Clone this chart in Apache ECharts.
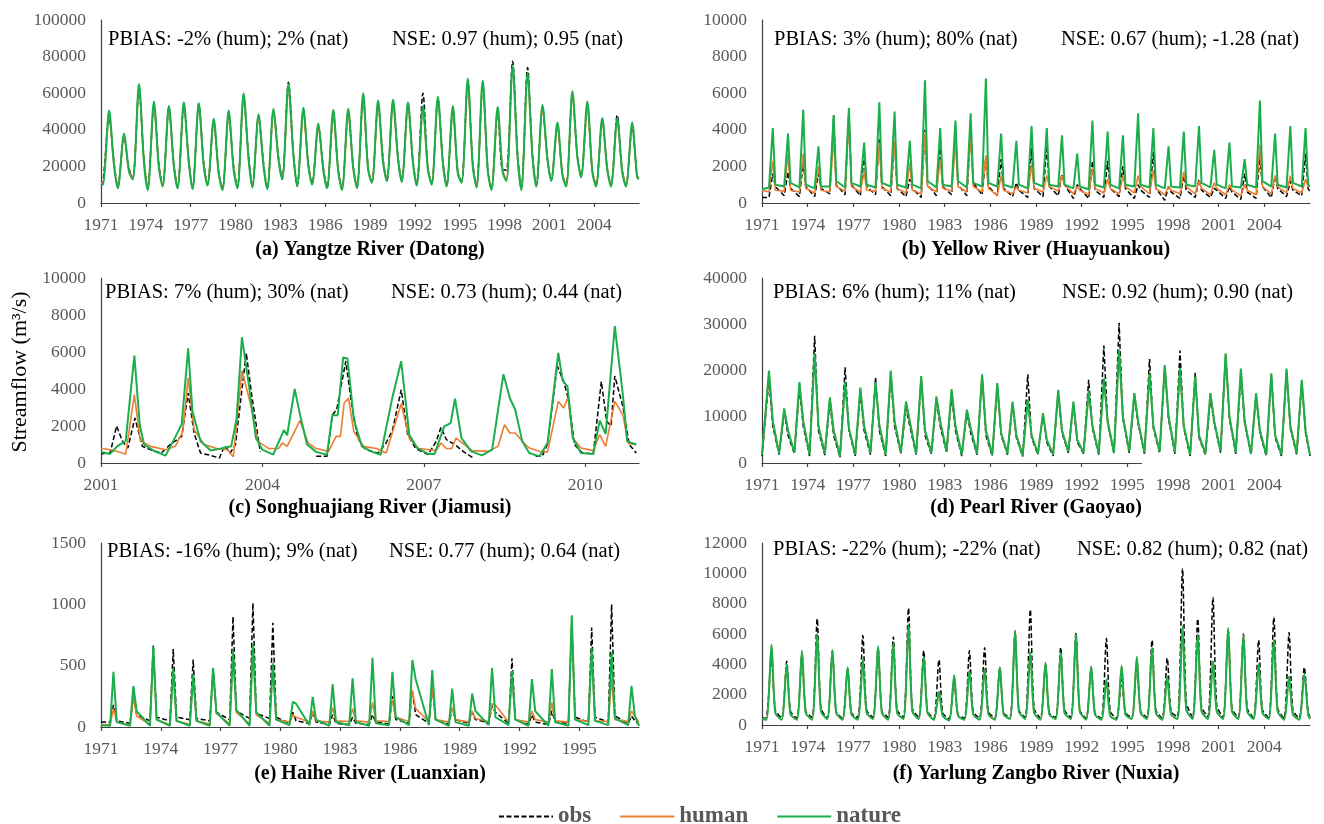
<!DOCTYPE html>
<html>
<head>
<meta charset="utf-8">
<script src="https://cdn.jsdelivr.net/npm/echarts@6/dist/echarts.min.js"></script>
<style>html,body{margin:0;padding:0;background:#fff}#chart{width:1324px;height:824px}</style>
</head>
<body>
<div id="chart"></div>
<script>
// ---------------- DATA ----------------
// Long-record panels: one row per year = [seasonal low, annual peak, post-peak recession] (m3/s)
// Months (1-12) at which those three values sit, per panel
const aMonths = [2, 7, 11];
const bMonths = [6, 9, 11];
const dMonths = [2, 6, 9];
const eMonths = [6, 8, 10];
const fMonths = [4, 8, 11];

// (a) Yangtze River (Datong), 1971-2006
const aObs = [[10500,46000,22000],[9000,36000,19000],[13500,62000,24000],[8000,53000,21000],[9500,52000,21000],[9000,53000,23000],[8000,54000,22000],[10000,44000,17000],[7500,48000,20000],[8500,57000,26000],[9000,47000,22000],[8000,50000,25000],[13000,66000,27000],[9500,50000,21000],[10500,42000,19000],[8500,48000,18000],[7500,50000,20000],[8500,57000,19000],[11500,54000,24000],[12000,55000,25000],[12000,54000,23000],[10000,60000,19000],[10500,57000,23000],[9500,50000,17000],[11500,66000,22000],[9000,64000,19000],[7500,50000,18000],[18000,77500,27000],[8000,74000,26000],[9500,52000,24000],[12500,42000,16000],[9500,59000,26000],[14500,53000,18000],[9500,45000,19000],[9500,48000,18000],[9500,41000,14000]];
const aHum = [[11000,47000,21000],[9000,36000,18000],[14000,62000,23000],[8500,52000,20000],[10000,49000,21000],[9000,52000,23000],[8500,52000,21000],[10500,43000,17000],[8000,46000,19000],[9000,57000,25000],[9500,45000,21000],[8500,48000,24000],[14000,60000,26000],[10000,48000,21000],[11000,40000,19000],[9000,47000,18000],[8000,47000,20000],[9000,55000,19000],[12000,52000,23000],[13000,52000,24000],[12500,51000,22000],[10500,49000,19000],[11000,55000,22000],[10000,49000,17000],[12000,63000,21000],[9500,63000,19000],[8000,49000,18000],[13000,72000,25000],[8000,68000,25000],[10000,50000,24000],[13000,41000,16000],[10000,57000,25000],[15000,51000,18000],[10000,44000,19000],[10000,44000,18000],[10000,41000,15000]];
const aNat = [[10000,50500,20000],[8000,38000,17000],[13000,65000,22000],[7000,55500,19000],[9000,53000,20000],[8000,55000,22000],[7500,54500,20000],[9500,46000,16000],[7000,50500,18000],[8000,60000,24000],[8500,48500,20000],[7500,51500,24000],[13000,65000,26000],[9000,52000,20000],[10000,43500,18000],[8000,51000,17000],[7000,51500,19000],[8000,60000,18000],[11000,56000,22000],[12000,56500,24000],[11500,55000,22000],[9500,53000,18000],[10000,58000,22000],[9000,53000,16000],[11000,68000,20000],[8500,67000,18000],[7000,52500,17000],[12000,75000,25000],[7000,71000,25000],[9000,53500,24000],[12000,44000,15000],[9000,61000,25000],[14000,55500,17000],[9000,46500,18000],[9000,46500,17000],[9000,44000,14000]];
const aEnds = {obs:[10000,13000], hum:[11000,14000], nat:[10500,13000]};

// (b) Yellow River (Huayuankou), 1971-2006
const bObs = [[300,1600,900],[400,1700,800],[350,2200,900],[350,1600,800],[500,4800,1000],[450,5000,1000],[400,2600,900],[450,3500,900],[400,3400,800],[350,1300,800],[300,4000,1000],[400,3200,900],[450,4000,1000],[400,3900,1100],[450,2500,900],[400,2400,800],[350,1100,700],[300,3000,800],[350,3100,900],[400,1600,1000],[250,1000,800],[250,2300,700],[300,2300,800],[350,2000,800],[250,1000,700],[300,2800,800],[150,900,600],[250,1500,700],[300,1300,700],[300,800,700],[250,900,600],[200,1600,600],[250,2500,900],[300,1500,800],[350,1200,700],[400,2700,800]];
const bHum = [[600,2300,700],[650,2700,700],[600,2700,800],[550,2000,700],[600,3600,900],[650,4500,900],[600,1700,700],[650,3300,800],[600,3400,800],[550,2200,700],[500,3800,900],[600,2400,800],[650,3300,900],[600,3700,900],[600,2600,800],[400,1500,700],[500,900,700],[550,2100,800],[600,1500,900],[650,1500,1000],[500,900,700],[450,1900,800],[550,1300,800],[500,1500,900],[550,1500,900],[500,1800,800],[450,900,700],[500,1700,900],[500,1200,800],[450,1100,800],[450,1000,700],[400,1000,700],[450,3200,900],[500,1500,900],[550,1500,800],[550,1300,900]];
const bNat = [[850,4100,1000],[900,3800,1100],[850,5100,1000],[800,3100,900],[900,4800,1200],[850,5200,1100],[900,3300,1000],[850,5500,1100],[900,5000,1000],[850,3400,1000],[800,6700,1200],[850,4100,1000],[900,4500,1200],[850,4900,1100],[900,6800,1100],[900,3800,1000],[850,3400,1000],[800,4200,1100],[900,4100,1000],[900,3700,1000],[800,2700,900],[750,4500,1000],[850,3900,1000],[800,3700,1000],[900,4900,1000],[850,4100,1000],[800,3100,900],[850,3900,1000],[900,4200,1100],[850,2900,1000],[800,3300,900],[850,2400,1000],[850,5600,1200],[900,3800,1000],[850,4200,1100],[900,4100,1000]];
const bEnds = {obs:[300,600], hum:[700,900], nat:[750,950]};

// (c) Songhuajiang River (Jiamusi), 2001-2010: [decimal year, m3/s]; null = gap in observations
const cObs = [[2001.0,500],[2001.17,540],[2001.29,2000],[2001.4,1170],[2001.5,810],[2001.63,2430],[2001.77,900],[2001.92,720],[2002.12,540],[2002.3,1030],[2002.5,1440],[2002.62,3780],[2002.73,1620],[2002.85,540],[2003.04,410],[2003.2,270],[2003.3,940],[2003.4,540],[2003.5,990],[2003.7,5950],[2003.8,3700],[2003.96,600],[2004.5,null],[2005.0,360],[2005.2,360],[2005.3,2600],[2005.38,2880],[2005.55,5500],[2005.65,3330],[2005.77,1350],[2005.92,720],[2006.15,540],[2006.3,1080],[2006.42,1800],[2006.58,3960],[2006.7,1530],[2006.85,780],[2007.08,450],[2007.23,1170],[2007.32,1930],[2007.42,1260],[2007.58,990],[2007.73,630],[2007.92,270],[2008.5,null],[2009.08,360],[2009.2,360],[2009.3,1030],[2009.48,5250],[2009.6,4400],[2009.7,3330],[2009.8,990],[2009.95,540],[2010.15,490],[2010.3,4400],[2010.4,2250],[2010.48,2000],[2010.55,4700],[2010.7,3060],[2010.82,990],[2010.95,540]];
const cHum = [[2001.0,800],[2001.2,700],[2001.4,540],[2001.46,480],[2001.62,3700],[2001.73,1200],[2001.92,900],[2002.2,720],[2002.38,900],[2002.52,1700],[2002.62,4600],[2002.73,1800],[2002.92,1000],[2003.15,780],[2003.35,720],[2003.46,340],[2003.62,5000],[2003.77,3300],[2003.92,1170],[2004.12,780],[2004.3,780],[2004.37,1080],[2004.46,900],[2004.7,2300],[2004.85,1080],[2005.0,780],[2005.23,630],[2005.37,1440],[2005.45,1440],[2005.52,3240],[2005.6,3500],[2005.7,1700],[2005.88,900],[2006.12,780],[2006.3,540],[2006.58,3200],[2006.73,1350],[2006.9,780],[2007.23,670],[2007.32,1080],[2007.42,780],[2007.52,780],[2007.6,1350],[2007.72,1080],[2007.9,670],[2008.2,630],[2008.38,900],[2008.5,2070],[2008.6,1620],[2008.7,1620],[2008.83,1170],[2008.96,810],[2009.15,630],[2009.3,600],[2009.5,3330],[2009.6,2970],[2009.68,3550],[2009.77,1350],[2009.92,810],[2010.15,670],[2010.27,1530],[2010.38,900],[2010.55,3330],[2010.7,2600],[2010.8,1060],[2010.95,1000]];
const cNat = [[2001.0,600],[2001.17,490],[2001.3,900],[2001.46,1200],[2001.62,5800],[2001.72,2070],[2001.8,1000],[2002.0,630],[2002.2,400],[2002.38,1400],[2002.5,2100],[2002.62,6200],[2002.7,2800],[2002.85,1170],[2003.04,670],[2003.23,780],[2003.42,900],[2003.52,2400],[2003.62,6800],[2003.75,4200],[2003.88,1350],[2004.0,720],[2004.2,450],[2004.4,1780],[2004.46,1500],[2004.6,4000],[2004.7,2600],[2004.83,1000],[2005.0,600],[2005.2,450],[2005.3,2580],[2005.4,2580],[2005.5,5700],[2005.58,5650],[2005.7,2340],[2005.85,900],[2006.04,600],[2006.2,450],[2006.42,3600],[2006.58,5500],[2006.73,1530],[2006.88,800],[2007.08,490],[2007.2,490],[2007.38,1980],[2007.5,2160],[2007.58,3480],[2007.7,1350],[2007.88,630],[2008.08,410],[2008.27,720],[2008.48,4800],[2008.6,3500],[2008.7,2880],[2008.83,1170],[2008.96,540],[2009.15,360],[2009.3,1080],[2009.5,5950],[2009.58,4450],[2009.67,4140],[2009.77,1350],[2009.92,540],[2010.15,490],[2010.27,2290],[2010.38,1570],[2010.55,7400],[2010.7,3700],[2010.78,1170],[2010.95,1000]];

// (d) Pearl River (Gaoyao), 1971-2006
const dObs = [[1500,18000,8000],[1800,11000,6000],[2000,16000,8000],[1500,27500,7000],[1700,13000,6000],[1200,20700,7000],[1500,15000,7000],[1800,18500,7000],[1500,19000,8000],[2000,12000,8000],[1800,18000,6000],[2000,13500,8000],[2200,14500,7000],[1500,11000,6500],[1800,19000,6000],[1500,16500,6000],[1800,12500,5500],[1400,19200,5500],[1800,10500,4500],[1500,15000,6500],[2200,12500,4500],[2000,18000,7500],[1800,25400,8500],[2000,30300,9500],[2200,14000,8500],[2000,22500,7500],[2200,20500,9500],[2000,24300,7500],[1500,19500,5500],[1800,14000,8500],[2200,23000,9500],[2000,19000,8500],[1800,14500,6500],[1500,19000,5500],[1500,19500,7500],[1800,17500,6500]];
const dHum = [[2000,19500,9000],[2200,11500,7000],[2400,17000,9000],[2000,23000,8000],[2200,14000,7000],[1800,17000,7500],[2000,16000,8000],[2400,17000,8500],[2000,19500,9000],[2500,13000,9000],[2200,18500,7000],[2400,14000,9000],[2700,15500,8000],[2000,11500,7500],[2200,19000,7000],[2000,17000,6500],[2200,13000,6000],[1800,13500,6000],[2200,10500,5000],[2000,15500,7000],[2700,13000,5000],[2400,15000,8000],[2200,18000,9000],[2400,24000,10000],[2700,15000,9000],[2400,19000,8000],[2700,21000,10000],[2500,20000,8000],[2000,18500,6000],[2200,15000,9000],[2700,23500,10000],[2500,20000,9000],[2200,15000,7000],[2000,19000,6000],[2000,20000,8000],[2200,17500,7000]];
const dNat = [[1800,20000,9000],[2000,11800,7000],[2200,17500,9000],[1800,23700,8000],[2000,14200,7000],[1500,17600,7500],[1800,16300,8000],[2200,17500,8000],[1800,20000,9000],[2300,13300,9000],[2000,18800,7000],[2200,14400,9000],[2500,16000,8000],[1800,11500,7500],[2000,19200,7000],[1800,17300,6500],[2000,13300,6000],[1600,13700,6000],[2000,10800,5000],[1800,15800,7000],[2500,13300,5000],[2200,15500,8000],[2000,18300,9000],[2200,24500,10000],[2500,15100,9000],[2200,19400,8000],[2500,21200,10000],[2300,20500,8000],[1800,18700,6000],[2000,15100,9000],[2500,23700,10000],[2300,20400,9000],[2000,15100,7000],[1800,19400,6000],[1800,20400,8000],[2000,18000,7000]];
const dEnds = {obs:[1500,1500], hum:[1800,1800], nat:[1800,1700]};

// (e) Haihe River (Luanxian), 1971-1997
const eObs = [[40,180,50],[30,250,100],[50,665,80],[50,635,80],[60,550,70],[50,480,120],[60,900,130],[70,1010,110],[70,850,80],[30,120,50],[30,120,40],[20,100,30],[20,80,30],[20,100,40],[25,250,60],[30,300,100],[30,330,60],[25,150,60],[30,120,60],[35,170,120],[30,560,60],[20,100,40],[20,130,40],[30,850,80],[40,810,80],[40,1000,90],[30,90,50]];
const eHum = [[20,150,40],[15,250,90],[20,600,60],[20,450,50],[20,400,50],[25,450,110],[25,600,120],[25,650,100],[30,500,60],[40,100,80],[40,130,50],[40,160,50],[45,150,50],[40,200,50],[45,220,80],[45,300,150],[45,330,60],[40,160,60],[40,130,70],[45,190,180],[40,420,60],[40,130,60],[40,200,50],[40,850,60],[45,600,50],[45,400,60],[45,130,90]];
const eNat = [[10,450,40],[10,333,130],[10,655,60],[10,478,50],[10,430,50],[10,483,120],[10,620,140],[10,683,120],[10,520,60],[15,205,190],[15,245,60],[10,347,40],[15,396,40],[10,565,30],[15,450,80],[15,546,390],[15,465,60],[10,314,40],[10,273,130],[15,483,80],[15,456,60],[10,390,130],[10,473,40],[10,910,60],[15,642,50],[15,609,70],[15,336,90]];
const eEnds = {obs:[40,20], hum:[20,40], nat:[15,10]};

// (f) Yarlung Zangbo River (Nuxia), 1971-2006
const fObs = [[500,4400,1000],[450,4200,900],[450,4600,900],[500,7000,1100],[450,4900,900],[450,3700,800],[500,5900,1000],[500,5100,900],[500,5800,1000],[500,7700,1100],[500,4900,900],[450,4300,800],[400,2800,700],[450,4900,900],[450,5100,900],[450,3800,800],[500,6200,1000],[500,7600,1100],[450,4000,800],[500,5100,1000],[500,6100,1000],[450,3800,800],[450,5700,900],[450,3000,800],[500,4000,900],[500,5600,1000],[450,4400,900],[550,10300,1500],[500,7000,1200],[550,8400,1300],[500,6300,1100],[500,6000,1100],[500,5600,1000],[500,7100,1100],[450,6100,1000],[450,3800,900]];
const fHum = [[350,5250,800],[350,3950,700],[350,4850,800],[350,5950,900],[400,4900,800],[350,3750,700],[350,4250,800],[400,5150,800],[350,5350,800],[400,6550,900],[400,4450,800],[350,2200,600],[300,3250,600],[350,3550,700],[350,3650,700],[350,3750,700],[400,6150,900],[400,4750,800],[350,4050,700],[400,4750,800],[400,5950,900],[350,3800,700],[350,2950,600],[350,3850,700],[400,4450,800],[400,5050,800],[350,3150,700],[400,6450,1000],[400,5950,900],[400,4150,900],[400,6350,900],[400,5900,900],[400,3950,800],[400,5550,900],[350,3150,700],[350,3300,700]];
const fNat = [[350,5300,800],[350,4000,700],[350,4900,800],[350,6000,900],[400,4950,800],[350,3800,700],[350,4300,800],[400,5200,800],[350,5400,800],[400,6600,900],[400,4500,800],[350,2200,600],[300,3300,600],[350,3600,700],[350,3700,700],[350,3800,700],[400,6200,900],[400,4800,800],[350,4100,700],[400,4800,800],[400,6000,900],[350,3850,700],[350,3000,600],[350,3900,700],[400,4500,800],[400,5100,800],[350,3200,700],[400,6500,1000],[400,6000,900],[400,4200,900],[400,6400,900],[400,5950,900],[400,4000,800],[400,5600,900],[350,3200,700],[350,3350,700]];
const fEnds = {obs:[450,500], hum:[400,400], nat:[400,400]};

const panelTitles = ['(a) Yangtze River (Datong)','(b) Yellow River (Huayuankou)','(c) Songhuajiang River (Jiamusi)','(d) Pearl River (Gaoyao)','(e) Haihe River (Luanxian)','(f) Yarlung Zangbo River (Nuxia)'];
const pbiasText = ['PBIAS: -2% (hum); 2% (nat)','PBIAS: 3% (hum); 80% (nat)','PBIAS: 7% (hum); 30% (nat)','PBIAS: 6% (hum); 11% (nat)','PBIAS: -16% (hum); 9% (nat)','PBIAS: -22% (hum); -22% (nat)'];
const nseText = ['NSE: 0.97 (hum); 0.95 (nat)','NSE: 0.67 (hum); -1.28 (nat)','NSE: 0.73 (hum); 0.44 (nat)','NSE: 0.92 (hum); 0.90 (nat)','NSE: 0.77 (hum); 0.64 (nat)','NSE: 0.82 (hum); 0.82 (nat)'];
const xRange = [[1971,2007],[1971,2007],[2001,2011],[1971,2007],[1971,1998],[1971,2007]];
const yMax = [100000, 10000, 10000, 40000, 1500, 12000];
const yStep = [20000, 2000, 2000, 10000, 500, 2000];
const seriesNames = ['obs','human','nature'];

// ---------------- BUILD ----------------
function cyc(year0, months, rows, ends) {
  const pts = [[year0, ends[0]]];
  rows.forEach((r, i) => months.forEach((m, j) => pts.push([year0 + i + (m - 0.5) / 12, r[j]])));
  pts.push([year0 + rows.length, ends[1]]);
  return pts;
}
const panelData = [
  [cyc(1971,aMonths,aObs,aEnds.obs), cyc(1971,aMonths,aHum,aEnds.hum), cyc(1971,aMonths,aNat,aEnds.nat)],
  [cyc(1971,bMonths,bObs,bEnds.obs), cyc(1971,bMonths,bHum,bEnds.hum), cyc(1971,bMonths,bNat,bEnds.nat)],
  [cObs, cHum, cNat],
  [cyc(1971,dMonths,dObs,dEnds.obs), cyc(1971,dMonths,dHum,dEnds.hum), cyc(1971,dMonths,dNat,dEnds.nat)],
  [cyc(1971,eMonths,eObs,eEnds.obs), cyc(1971,eMonths,eHum,eEnds.hum), cyc(1971,eMonths,eNat,eEnds.nat)],
  [cyc(1971,fMonths,fObs,fEnds.obs), cyc(1971,fMonths,fHum,fEnds.hum), cyc(1971,fMonths,fNat,fEnds.nat)]
];

const SERIF = '"Liberation Serif","Times New Roman",serif';
const LABEL_GREY = '#595959';
const AXIS_COLOR = '#404040';
const colors = ['#000000', '#ED7D31', '#1AAF4B'];
const widths = [1.5, 1.6, 2];
const panelSmooth = [0.3, 0, 0, 0, 0, 0.25];

const grids = [
  {left:101, top:20, width:538, height:183},
  {left:762, top:20, width:548, height:183},
  {left:101, top:278, width:538, height:185},
  {left:762, top:278, width:548, height:185},
  {left:101, top:543, width:538, height:184},
  {left:762, top:543, width:548, height:182}
];
const titlePos = [[370,250],[1036,250],[370,508],[1036,508],[370,774],[1036,774]];
const pbiasPos = [[108,40],[774,40],[105,293],[773,293],[107,552],[773,550]];
const nsePos = [[392,40],[1061,40],[391,293],[1062,293],[389,552],[1077,550]];

const xAxes = [], yAxes = [], series = [], graphics = [];
for (let p = 0; p < 6; p++) {
  xAxes.push({
    type:'value', gridIndex:p, min:xRange[p][0], max:xRange[p][1], interval:3,
    axisLine:{show:true, onZero:false, lineStyle:{color:AXIS_COLOR, width:1.2}},
    axisTick:{show:true, length:4, lineStyle:{color:AXIS_COLOR, width:1.2}},
    splitLine:{show:false},
    axisLabel:{color:LABEL_GREY, fontFamily:SERIF, fontSize:17.5, margin:13, showMaxLabel:false, showMinLabel:true,
      formatter: v => String(Math.round(v))}
  });
  yAxes.push({
    type:'value', gridIndex:p, min:0, max:yMax[p], interval:yStep[p],
    axisLine:{show:true, lineStyle:{color:AXIS_COLOR, width:1.2}},
    axisTick:{show:false}, splitLine:{show:false},
    axisLabel:{color:LABEL_GREY, fontFamily:SERIF, fontSize:17.5, margin:15, formatter: v => String(v)}
  });
  for (let s = 0; s < 3; s++) {
    series.push({
      name:seriesNames[s], type:'line', xAxisIndex:p, yAxisIndex:p,
      data:panelData[p][s], symbol:'none', showSymbol:false, connectNulls:false,
      smooth:panelSmooth[p] || false,
      lineStyle:{color:colors[s], width:widths[s], type: s === 0 ? [5,2.5] : 'solid'},
      itemStyle:{color:colors[s]}, z: 2 + s, animation:false
    });
  }
  graphics.push({type:'text', x:titlePos[p][0], y:titlePos[p][1],
    style:{text:panelTitles[p], font:'bold 20px ' + SERIF, fill:'#000', textAlign:'center', textVerticalAlign:'middle'}});
  graphics.push({type:'text', x:pbiasPos[p][0], y:pbiasPos[p][1],
    style:{text:pbiasText[p], font:'20.5px ' + SERIF, fill:'#000', textAlign:'left', textVerticalAlign:'middle'}});
  graphics.push({type:'text', x:nsePos[p][0], y:nsePos[p][1],
    style:{text:nseText[p], font:'20.5px ' + SERIF, fill:'#000', textAlign:'left', textVerticalAlign:'middle'}});
}
graphics.push({type:'text', x:20, y:372, rotation:Math.PI/2,
  style:{text:'Streamflow (m³/s)', font:'22px ' + SERIF, fill:'#000', textAlign:'center', textVerticalAlign:'middle'}});
// white patch over the tail of panel (d)'s x axis, as in the source figure
graphics.push({type:'rect', shape:{x:1142, y:461, width:172, height:8}, style:{fill:'#ffffff'}, z:100});

const chart = echarts.init(document.getElementById('chart'), null, {renderer:'canvas'});
chart.setOption({
  animation:false,
  backgroundColor:'#ffffff',
  grid:grids, xAxis:xAxes, yAxis:yAxes, series:series, graphic:graphics,
  legend:{
    data:seriesNames, left:493, top:800, itemWidth:54, itemHeight:14, itemGap:28,
    itemStyle:{opacity:0},
    textStyle:{fontFamily:SERIF, fontWeight:'bold', fontSize:23, color:LABEL_GREY}
  }
});
</script>
</body>
</html>
